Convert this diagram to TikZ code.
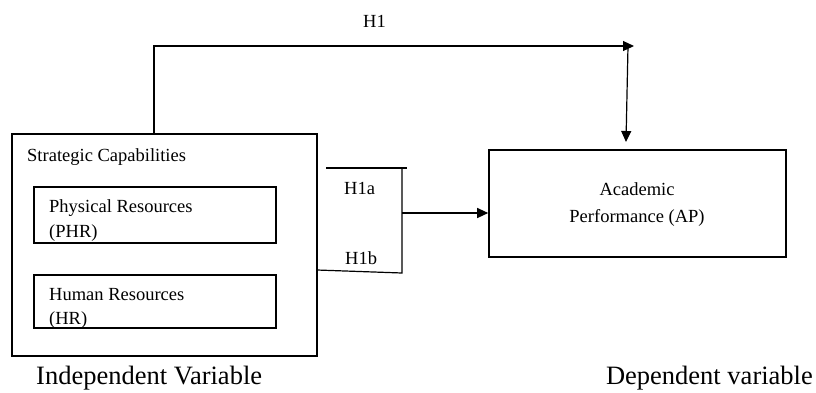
\documentclass[tikz,border=0pt]{standalone}
\usepackage{fontspec}
\setmainfont{Liberation Serif}
\usetikzlibrary{arrows.meta}
\begin{document}
\begin{tikzpicture}[x=1pt,y=-1pt,
  box/.style={draw,line width=1.6pt,inner sep=0pt},
  inbox/.style={draw,line width=1.3pt,inner sep=0pt},
  txt/.style={anchor=base west,inner sep=0pt,font=\fontsize{18.5}{22}\selectfont},
  ctxt/.style={anchor=base,inner sep=0pt,font=\fontsize{18.5}{22}\selectfont},
  big/.style={anchor=base west,inner sep=0pt,font=\fontsize{26.5}{30}\selectfont},
  conn/.style={line width=1.2pt},
  arr/.style={line width=1.2pt,-{Triangle[length=11pt,width=10pt]}}]
\useasboundingbox (0,0) rectangle (816,392);
% boxes
\node[box,minimum width=305pt,minimum height=222pt] (sc) at (164.5,245) {};
\node[inbox,minimum width=242pt,minimum height=56pt] (phr) at (155,215) {};
\node[inbox,minimum width=242pt,minimum height=53pt] (hr) at (155,301.5) {};
\node[box,minimum width=297pt,minimum height=107pt] (ap) at (637.5,203.5) {};
% texts
\node[txt] (tsc) at (27,161) {Strategic Capabilities};
\node[txt] (tphr1) at (49,212) {Physical Resources};
\node[txt] (tphr2) at (49,237) {(PHR)};
\node[txt] (thr1) at (49,300) {Human Resources};
\node[txt] (thr2) at (49,324) {(HR)};
\node[ctxt] (tap1) at (637,195) {Academic};
\node[ctxt] (tap2) at (637,222) {Performance (AP)};
\node[txt] (th1) at (363,27) {H1};
\node[txt] (th1a) at (344,194) {H1a};
\node[txt] (th1b) at (345,264) {H1b};
\node[big] (tiv) at (36,384) {Independent Variable};
\node[big,anchor=base east] (tdv) at (813,384) {Dependent variable};
% H1 connector
\coordinate (h1s) at (154,134);
\coordinate (h1e) at (634,46);
\draw[arr] (h1s) |- (h1e);
\coordinate (h1d) at (628,46);
\coordinate (h1t) at (626,142);
\draw[arr] (h1d) -- (h1t);
% bracket
\coordinate (b1) at (326,168);
\coordinate (b2) at (407,168);
\coordinate (b3) at (402,168);
\coordinate (b4) at (402,273);
\coordinate (b5) at (317,270);
\draw[conn] (b1) -- (b2);
\draw[conn] (b3) -- (b4) -- (b5);
\coordinate (bm) at (402,213);
\draw[arr] (bm) -- (bm -| ap.west);
\end{tikzpicture}
\end{document}
